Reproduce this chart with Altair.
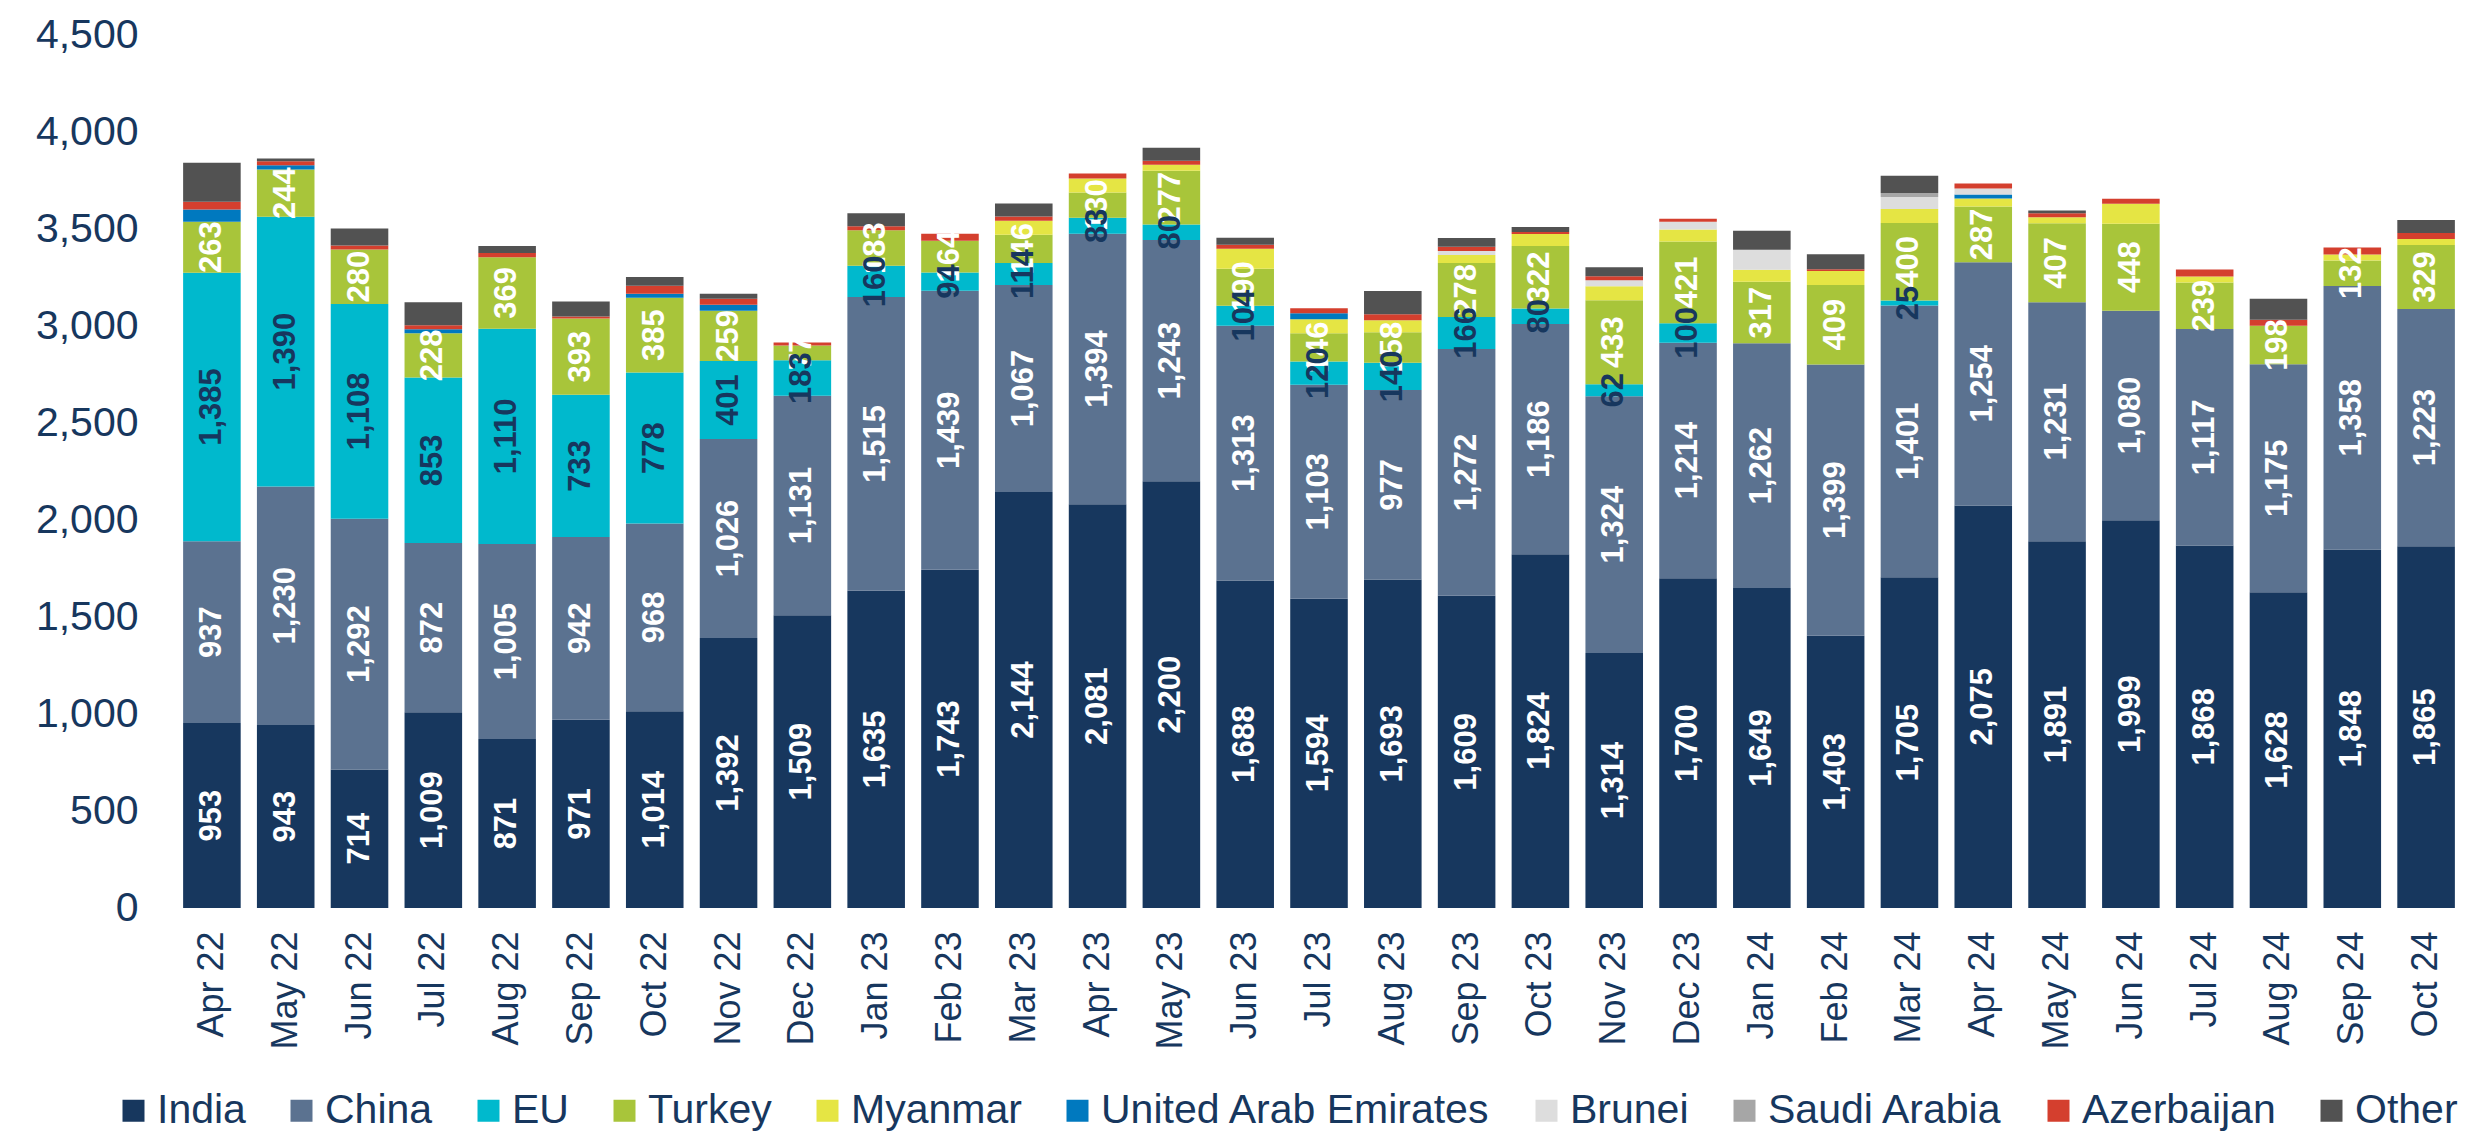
import altair as alt
import pandas as pd

FONT = "Liberation Sans"
NAVY = "#17375e"

months = ["Apr 22", "May 22", "Jun 22", "Jul 22", "Aug 22", "Sep 22", "Oct 22", "Nov 22",
          "Dec 22", "Jan 23", "Feb 23", "Mar 23", "Apr 23", "May 23", "Jun 23", "Jul 23",
          "Aug 23", "Sep 23", "Oct 23", "Nov 23", "Dec 23", "Jan 24", "Feb 24", "Mar 24",
          "Apr 24", "May 24", "Jun 24", "Jul 24", "Aug 24", "Sep 24", "Oct 24"]

series = ["India", "China", "EU", "Turkey", "Myanmar", "United Arab Emirates",
          "Brunei", "Saudi Arabia", "Azerbaijan", "Other"]
colors = ["#17375e", "#5b7290", "#00b9cd", "#a8c53a", "#e5e544", "#0079bf",
          "#dddddd", "#a6a6a6", "#d43f2e", "#525252"]

india = [953, 943, 714, 1009, 871, 971, 1014, 1392, 1509, 1635, 1743, 2144, 2081, 2200, 1688, 1594,
         1693, 1609, 1824, 1314, 1700, 1649, 1403, 1705, 2075, 1891, 1999, 1868, 1628, 1848, 1865]
china = [937, 1230, 1292, 872, 1005, 942, 968, 1026, 1131, 1515, 1439, 1067, 1394, 1243, 1313, 1103,
         977, 1272, 1186, 1324, 1214, 1262, 1399, 1401, 1254, 1231, 1080, 1117, 1175, 1358, 1223]
eu = [1385, 1390, 1108, 853, 1110, 733, 778, 401, 183, 160, 94, 114, 83, 80, 104, 120,
      140, 166, 80, 62, 100, 0, 0, 25, 0, 0, 0, 0, 0, 0, 0]
turkey = [263, 244, 280, 228, 369, 393, 385, 259, 77, 183, 164, 146, 130, 277, 190, 146,
          158, 278, 322, 433, 421, 317, 409, 400, 287, 407, 448, 239, 198, 132, 329]
myanmar = [0, 0, 0, 0, 0, 0, 0, 0, 0, 0, 0, 72, 72, 31, 103, 72,
           62, 41, 62, 72, 62, 62, 72, 72, 41, 31, 103, 31, 0, 31, 31]
uae = [62, 21, 0, 21, 0, 0, 21, 31, 0, 0, 0, 0, 0, 0, 0, 31,
       0, 0, 0, 0, 0, 0, 0, 0, 21, 0, 0, 0, 0, 0, 0]
brunei = [0, 0, 0, 0, 0, 0, 0, 0, 0, 0, 0, 0, 0, 0, 0, 0,
          0, 21, 0, 31, 41, 103, 0, 62, 31, 0, 0, 0, 0, 0, 0]
saudi = [0, 0, 0, 0, 0, 0, 0, 0, 0, 0, 0, 0, 0, 0, 0, 0,
         0, 0, 0, 0, 0, 0, 0, 21, 0, 0, 0, 0, 0, 0, 0]
azerbaijan = [41, 21, 21, 21, 21, 10, 41, 31, 15, 21, 36, 21, 26, 21, 21, 26,
              31, 21, 10, 21, 15, 0, 10, 0, 26, 21, 26, 36, 31, 36, 31]
other = [201, 15, 88, 119, 36, 77, 46, 26, 0, 67, 0, 67, 0, 67, 36, 0,
         119, 46, 26, 46, 0, 98, 77, 88, 0, 15, 0, 0, 108, 0, 67]

series_values = [india, china, eu, turkey, myanmar, uae, brunei, saudi, azerbaijan, other]

rows = []
for si, (name, vals) in enumerate(zip(series, series_values)):
    for m, v in zip(months, vals):
        rows.append({"month": m, "series": name, "order": si, "value": v})
df = pd.DataFrame(rows)

base = alt.Chart(df).transform_stack(
    stack="value", groupby=["month"],
    sort=[alt.SortField("order", order="ascending")],
    as_=["y0", "y1"],
).transform_calculate(mid="(datum.y0 + datum.y1) / 2")

x_enc = alt.X(
    "month:N", sort=months,
    scale=alt.Scale(paddingInner=0.22, paddingOuter=0.11),
    axis=alt.Axis(title=None, labelAngle=270, labelFontSize=36, labelFont=FONT,
                  labelColor=NAVY, domain=False, ticks=False, tickSize=0,
                  labelPadding=23, labelLimit=400),
)
y_enc = alt.Y(
    "y0:Q",
    scale=alt.Scale(domain=[0, 4500], nice=False),
    axis=alt.Axis(title=None, values=list(range(0, 4501, 500)), format=",.0f",
                  grid=False, domain=False, ticks=False, tickSize=0,
                  labelFontSize=41, labelFont=FONT, labelColor=NAVY, labelPadding=37),
)

bars = base.mark_bar().encode(
    x=x_enc,
    y=y_enc,
    y2="y1:Q",
    color=alt.Color(
        "series:N",
        scale=alt.Scale(domain=series, range=colors),
        legend=alt.Legend(
            orient="none", legendX=-62, legendY=1055, direction="horizontal",
            columns=10, title=None, symbolType="square", symbolSize=484,
            symbolStrokeWidth=0, labelFontSize=41, labelFont=FONT, labelColor=NAVY,
            labelOffset=3, columnPadding=35, labelLimit=1000, padding=0,
        ),
    ),
)

white_labels = base.transform_filter(
    "(datum.series == 'India' || datum.series == 'China' || datum.series == 'Turkey') && datum.value > 0"
).mark_text(
    angle=270, fontSize=31, fontWeight="bold", font=FONT, color="#ffffff",
    align="center", baseline="middle",
).encode(
    x=alt.X("month:N", sort=months),
    y=alt.Y("mid:Q"),
    text=alt.Text("value:Q", format=",.0f"),
)

navy_labels = base.transform_filter(
    "datum.series == 'EU' && datum.value > 0"
).mark_text(
    angle=270, fontSize=31, fontWeight="bold", font=FONT, color=NAVY,
    align="center", baseline="middle",
).encode(
    x=alt.X("month:N", sort=months),
    y=alt.Y("mid:Q"),
    text=alt.Text("value:Q", format=",.0f"),
)

chart = alt.layer(bars, white_labels, navy_labels).properties(
    width=2288, height=873,
    autosize=alt.AutoSizeParams(type="none"),
    padding={"left": 167, "top": 27, "right": 4, "bottom": 224},
    background="#ffffff",
).configure_view(stroke=None)

chart.save("out.html", embed_options={"renderer": "svg", "actions": False})
